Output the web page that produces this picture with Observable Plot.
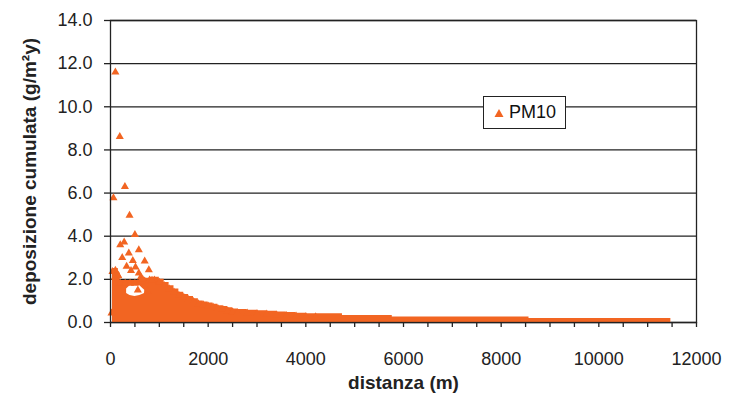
<!DOCTYPE html>
<html>
<head>
<meta charset="utf-8">
<script src="https://cdn.jsdelivr.net/npm/d3@7"></script>
<script src="https://cdn.jsdelivr.net/npm/@observablehq/plot@0.6"></script>
<style>
  body { margin: 0; background: #fff; }
  #wrap { position: relative; width: 733px; height: 402px; }
  #legend { position: absolute; left: 483px; top: 96px; width: 81px; height: 31px;
    border: 1.5px solid #222; background: #fff; font-family: Arial, "Liberation Sans", sans-serif;
    font-size: 18px; color: #111; display: flex; align-items: center; box-sizing: content-box; }
  #legend svg { margin-left: 10px; margin-right: 5px; }
</style>
</head>
<body>
<div id="wrap"></div>
<script>
const orange = "#f26522";
const seriesName = "PM10";
const xLabel = "distanza (m)";
const yLabel = "deposizione cumulata (g/m²y)";
const xTicks = [0, 2000, 4000, 6000, 8000, 10000, 12000];
const xMinorTicks = [0, 500, 1000, 1500, 2000, 2500, 3000, 3500, 4000, 4500, 5000, 5500, 6000, 6500, 7000, 7500, 8000, 8500, 9000, 9500, 10000, 10500, 11000, 11500, 12000];
const yTicks = [0, 2, 4, 6, 8, 10, 12, 14];

// isolated points
const outX = [100, 190, 295, 60, 390, 500, 580, 280, 200, 375, 240, 700, 457, 512, 785, 580, 100, 90, 20, 150, 330, 420, 620, 660, 850, 560, 760];
const outY = [11.6, 8.62, 6.3, 5.78, 4.96, 4.07, 3.37, 3.72, 3.6, 3.21, 3.0, 2.84, 2.87, 2.56, 2.44, 2.29, 2.41, 2.1, 0.43, 2.2, 2.6, 2.4, 2.1, 2.0, 1.95, 1.5, 1.45];

// upper edge of the dense cloud of points
const bandX = [40, 100, 160, 200, 300, 400, 500, 600, 700, 800, 900, 1000, 1100, 1200, 1300, 1400, 1500, 1600, 1700, 1800, 1900, 2000, 2100, 2200, 2300, 2400, 2500, 2600, 2800, 3000, 3200, 3400, 3600, 3800, 4000, 4200, 4750, 5770, 8570, 11475];
const bandY = [2.5, 2.5, 2.3, 1.95, 1.95, 1.95, 1.95, 2.0, 2.05, 2.1, 2.1, 2.0, 1.85, 1.7, 1.55, 1.4, 1.3, 1.2, 1.1, 1.0, 0.95, 0.9, 0.85, 0.78, 0.74, 0.68, 0.63, 0.6, 0.57, 0.55, 0.52, 0.49, 0.46, 0.43, 0.41, 0.4, 0.32, 0.26, 0.18, 0.18];

// gap inside the cloud (no points there)
const holeX = [330, 400, 500, 600, 700];
const holeLow = [1.35, 1.25, 1.2, 1.25, 1.35];
const holeHigh = [1.55, 1.7, 1.75, 1.7, 1.5];

const outliers = outX.map((x, i) => ({x, y: outY[i]}));
const band = bandX.map((x, i) => ({x, y: bandY[i]}));
const hole = holeX.map((x, i) => ({x, y1: holeLow[i], y2: holeHigh[i]}));

const font = "Arial, 'Liberation Sans', sans-serif";

const chart = Plot.plot({
  width: 733,
  height: 402,
  marginLeft: 110,
  marginRight: 37,
  marginTop: 20,
  marginBottom: 80,
  style: {fontFamily: font, fontSize: "18px", color: "#222", background: "transparent"},
  x: {domain: [0, 12000]},
  y: {domain: [0, 14]},
  marks: [
    Plot.gridY(yTicks, {stroke: "#222", strokeOpacity: 1, strokeWidth: 1.3}),
    Plot.areaY(band, {x: "x", y: "y", fill: orange, curve: "step-after"}),
    Plot.areaY(hole, {x: "x", y1: "y1", y2: "y2", fill: "white", curve: "linear"}),
    Plot.dot(band.filter(d => d.x <= 4200), {x: "x", y: "y", dy: 3, symbol: "triangle", r: 3, fill: orange}),
    Plot.dot(outliers, {x: "x", y: "y", symbol: "triangle", r: 3, fill: orange}),
    Plot.frame({stroke: "#222", strokeWidth: 1.3}),
    Plot.axisX(xMinorTicks, {tickSize: 5, text: null, strokeWidth: 1.3, label: null}),
    Plot.axisX(xTicks, {tickSize: 0, tickPadding: 30, tickFormat: d => String(d), label: xLabel,
      labelAnchor: "center", labelArrow: "none", labelOffset: 66, fontSize: 18}),
    Plot.axisY(yTicks, {tickSize: 6, strokeWidth: 1.3, tickPadding: 12, tickFormat: d => d.toFixed(1),
      label: yLabel, labelAnchor: "center", labelArrow: "none", labelOffset: 88, fontSize: 18})
  ]
});
document.getElementById("wrap").appendChild(chart);

// bold axis titles
chart.querySelectorAll("g[aria-label='x-axis label'] text, g[aria-label='y-axis label'] text").forEach(t => {
  t.setAttribute("font-weight", "bold");
  t.setAttribute("font-size", "19");
});

const legend = document.createElement("div");
legend.id = "legend";
legend.innerHTML = `<svg width="10" height="10"><path d="M5,1 L9.5,9 L0.5,9 Z" fill="${orange}"/></svg><span>${seriesName}</span>`;
document.getElementById("wrap").appendChild(legend);
</script>
</body>
</html>
